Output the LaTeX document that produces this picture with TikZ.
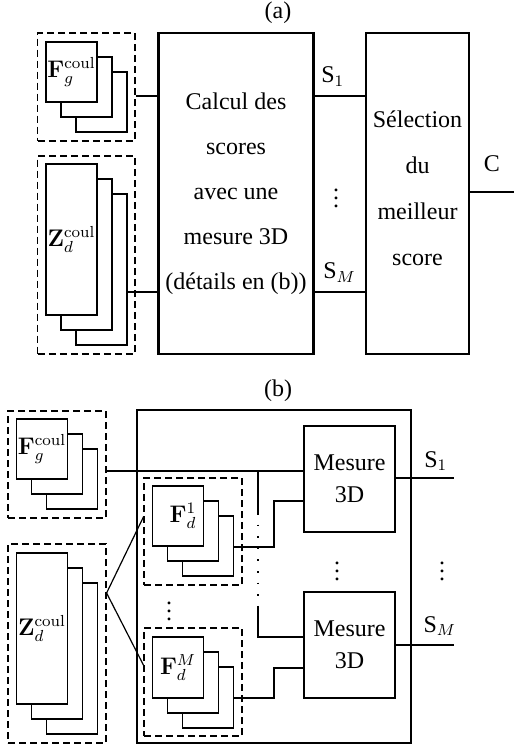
\documentclass[tikz,border=0pt]{standalone}
\usepackage[no-math]{fontspec}
\setmainfont{Liberation Serif}
\usepackage{amsmath}
\usetikzlibrary{positioning}

\tikzset{
  trait/.style={line width=0.6pt},
  couche/.style={draw, fill=white, line width=0.6pt, minimum width=25.5pt,
    inner sep=0.5pt, font=\fontsize{12}{14}\selectfont},
  groupe/.style={draw, dash pattern=on 3.5pt off 2pt, line width=0.6pt,
    minimum width=48.6pt},
  bloc/.style={draw, line width=0.6pt, align=center},
  blocfort/.style={draw, line width=1.4pt, align=center},
  etiquette/.style={font=\fontsize{12}{14}\selectfont, inner sep=0pt}
}

% pile de trois images : nom, x, y (centre de la premiere), hauteur, texte
\newcommand{\empilement}[5]{%
  \node[couche, minimum height=#4] (#1c) at (#2+30,#3+30) {};
  \node[couche, minimum height=#4] (#1b) at (#2+15,#3+15) {};
  \node[couche, minimum height=#4] (#1) at (#2,#3) {#5};
}

\begin{document}
\begin{tikzpicture}[x=0.5pt,y=-0.5pt]
\useasboundingbox (0,0) rectangle (514,747);

% (a)
\node[etiquette] (titrea) at (278,13) {(a)};
\node[groupe, minimum height=54pt] (grpfga) at (86.4,87) {};
\empilement{fga}{71.5}{72}{30pt}{$\mathbf{F}_g^{\mathrm{coul}}$}
\node[groupe, minimum height=99pt] (grpza) at (86.4,255) {};
\empilement{za}{71.5}{239.5}{75.5pt}{$\mathbf{Z}_d^{\mathrm{coul}}$}
\node[blocfort, minimum width=76pt, minimum height=160.5pt,
  font=\fontsize{12}{22.5}\selectfont] (calcul) at (236,193.5)
  {Calcul des\\scores\\avec une\\mesure 3D\\(détails en (b))};
\node[bloc, minimum width=51.5pt, minimum height=160.5pt, text depth=5.2pt,
  font=\fontsize{12}{23}\selectfont] (selection) at (417.5,193.5)
  {Sélection\\du\\meilleur\\score};

\coordinate (ya1) at (0,96);
\coordinate (yaM) at (0,292);
\coordinate (sortiea) at (514,192);
\draw[trait] (grpfga.east |- ya1) -- (calcul.west |- ya1);
\draw[trait] (zac.east |- yaM) -- (calcul.west |- yaM);
\draw[trait] (calcul.east |- ya1) --
  node[etiquette, pos=0, anchor=base west, xshift=3pt, yshift=6.5pt] (s1a) {S$_1$}
  (selection.west |- ya1);
\draw[trait] (calcul.east |- yaM) --
  node[etiquette, pos=0, anchor=base west, xshift=4pt, yshift=6.5pt] (sma) {S$_M$}
  (selection.west |- yaM);
\node[etiquette] (pointsa) at (336,192) {$\vdots$};
\draw[trait] (selection.east |- sortiea) --
  node[etiquette, anchor=base, yshift=10pt] (ca) {C} (sortiea);

% (b)
\node[etiquette] (titreb) at (278,391) {(b)};
\node[blocfort, minimum width=137pt, minimum height=166.5pt] (mesures) at (274,576.5) {};
\node[groupe, minimum width=49pt, minimum height=53.5pt] (grpfgb) at (57,464.5) {};
\empilement{fgb}{42}{449}{30pt}{$\mathbf{F}_g^{\mathrm{coul}}$}
\node[groupe, minimum width=49pt, minimum height=99.5pt] (grpzb) at (57,643.5) {};
\empilement{zb}{42}{628.5}{75.5pt}{$\mathbf{Z}_d^{\mathrm{coul}}$}
\node[groupe, minimum width=49pt, minimum height=53.5pt] (grpd1) at (193,531.5) {};
\empilement{fd1}{178}{516}{30pt}{\hspace{5pt}$\mathbf{F}_d^{1}$}
\node[groupe, minimum width=49pt, minimum height=54pt] (grpdM) at (193,682) {};
\empilement{fdM}{178}{667.5}{30.5pt}{$\mathbf{F}_d^{M}$}
\node[etiquette] (pointsd) at (169,605) {$\vdots$};
\node[bloc, minimum width=45.5pt, minimum height=53pt,
  font=\fontsize{12}{16}\selectfont] (mesure1) at (349.5,479) {Mesure\\3D};
\node[bloc, minimum width=45.5pt, minimum height=53pt,
  font=\fontsize{12}{16}\selectfont] (mesureM) at (349.5,645) {Mesure\\3D};

\coordinate (yb1) at (0,471);
\coordinate (jhaut) at (258,513);
\coordinate (jbas) at (258,607);
\coordinate (yb2) at (0,637);
\draw[trait] (grpfgb.east |- yb1) -- (mesure1.west |- yb1);
\draw[trait] (jhaut |- yb1) -- (jhaut);
\draw[trait, dash pattern=on 0.8pt off 5pt] (jhaut) -- (jbas);
\draw[trait] (jbas) -- (jbas |- yb2) -- (mesureM.west |- yb2);

\coordinate (zsource) at (0,593);
\coordinate (yd1in) at (0,517);
\coordinate (ydMin) at (0,665);
\draw[trait] (grpd1.west |- yd1in) -- (grpzb.east |- zsource) -- (grpdM.west |- ydMin);

\coordinate (coude) at (274,0);
\coordinate (yd1) at (0,547);
\coordinate (ym1) at (0,501);
\coordinate (ydM) at (0,698);
\coordinate (ymM) at (0,668);
\draw[trait] (fd1c.east |- yd1) -- (coude |- yd1) -- (coude |- ym1) -- (mesure1.west |- ym1);
\draw[trait] (fdMc.east |- ydM) -- (coude |- ydM) -- (coude |- ymM) -- (mesureM.west |- ymM);

\coordinate (sortie1) at (454,478);
\coordinate (sortieM) at (454,645);
\draw[trait] (mesure1.east |- sortie1) --
  node[etiquette, anchor=base, xshift=5.5pt, yshift=5.5pt] (s1b) {S$_1$} (sortie1);
\draw[trait] (mesureM.east |- sortieM) --
  node[etiquette, anchor=base, xshift=7.5pt, yshift=6.5pt] (smb) {S$_M$} (sortieM);
\node[etiquette] (points1) at (337,565) {$\vdots$};
\node[etiquette] (points2) at (442,565) {$\vdots$};
\end{tikzpicture}
\end{document}
